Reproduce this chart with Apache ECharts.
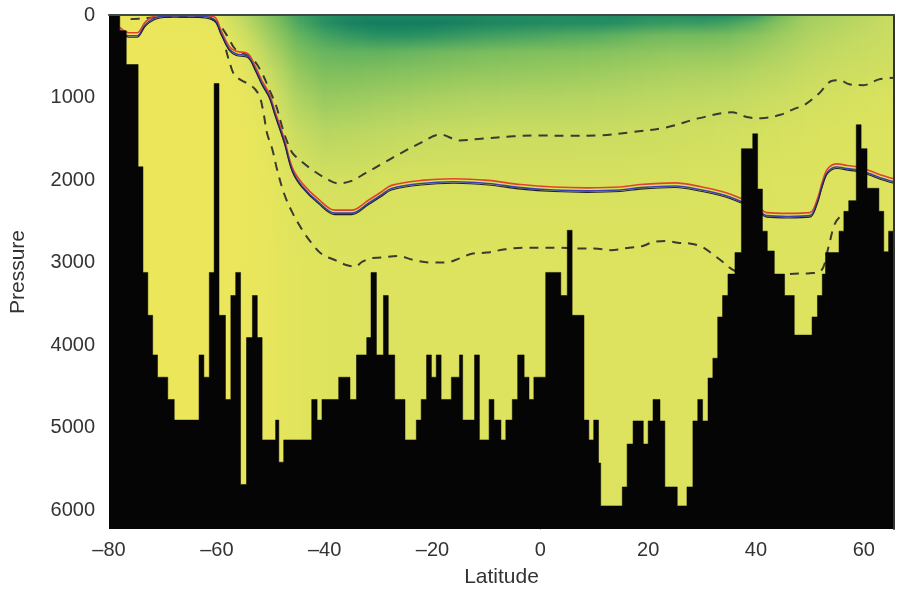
<!DOCTYPE html>
<html>
<head>
<meta charset="utf-8">
<script src="https://cdn.jsdelivr.net/npm/echarts@6.0.0/dist/echarts.min.js"></script>
<style>html,body{margin:0;padding:0;background:#fff}#chart{width:897px;height:593px}</style>
</head>
<body>
<div id="chart"></div>
<script>
// ---------- axis ticks ----------
const latTicks = [-80, -60, -40, -20, 0, 20, 40, 60];
const pressureTicks = [0, 1000, 2000, 3000, 4000, 5000, 6000];

// ---------- background property field (colour index 0 = yellow .. 1 = dark teal) ----------
const fieldLat = [-80,-75,-70,-65,-60,-55,-50,-45,-40,-35,-30,-25,-20,-15,-10,-5,0,5,10,15,20,25,30,35,40,45,50,55,60,65];
const fieldDepth = [0, 100, 250, 450, 700, 1000, 1400, 2000, 3000, 6230];
const fieldValue = [
  [0.03,0.03,0.02,0.02,0.02,0.02,0.02,0.02,0.02,0.02],
  [0.03,0.03,0.02,0.02,0.02,0.02,0.02,0.02,0.02,0.02],
  [0.04,0.04,0.03,0.02,0.02,0.02,0.02,0.02,0.02,0.02],
  [0.06,0.05,0.03,0.02,0.02,0.02,0.02,0.02,0.02,0.02],
  [0.10,0.08,0.05,0.03,0.02,0.02,0.02,0.02,0.02,0.02],
  [0.34,0.30,0.22,0.14,0.07,0.04,0.03,0.03,0.03,0.03],
  [0.58,0.54,0.47,0.38,0.28,0.18,0.10,0.07,0.06,0.06],
  [0.80,0.76,0.68,0.60,0.50,0.40,0.28,0.16,0.11,0.11],
  [0.90,0.90,0.80,0.68,0.60,0.50,0.36,0.20,0.13,0.13],
  [0.94,0.97,0.86,0.70,0.60,0.49,0.35,0.20,0.14,0.14],
  [0.95,0.99,0.90,0.70,0.59,0.47,0.33,0.19,0.14,0.14],
  [0.95,0.99,0.90,0.68,0.57,0.45,0.31,0.18,0.14,0.14],
  [0.95,0.99,0.88,0.66,0.55,0.43,0.29,0.18,0.14,0.14],
  [0.94,0.97,0.85,0.64,0.53,0.41,0.28,0.18,0.14,0.14],
  [0.93,0.95,0.82,0.62,0.52,0.40,0.27,0.18,0.14,0.14],
  [0.92,0.94,0.80,0.61,0.51,0.39,0.27,0.18,0.14,0.14],
  [0.92,0.93,0.78,0.60,0.50,0.39,0.27,0.18,0.14,0.14],
  [0.92,0.92,0.76,0.59,0.49,0.38,0.27,0.18,0.14,0.14],
  [0.93,0.92,0.74,0.58,0.48,0.37,0.26,0.18,0.14,0.14],
  [0.93,0.90,0.70,0.56,0.46,0.36,0.26,0.18,0.14,0.14],
  [0.91,0.86,0.66,0.54,0.44,0.34,0.25,0.18,0.14,0.14],
  [0.91,0.84,0.64,0.52,0.42,0.33,0.24,0.18,0.14,0.14],
  [0.93,0.84,0.64,0.52,0.41,0.32,0.23,0.17,0.14,0.14],
  [0.91,0.80,0.62,0.51,0.40,0.31,0.22,0.17,0.14,0.14],
  [0.84,0.70,0.56,0.46,0.36,0.28,0.21,0.16,0.14,0.14],
  [0.62,0.55,0.47,0.40,0.33,0.25,0.19,0.15,0.14,0.14],
  [0.46,0.43,0.39,0.34,0.28,0.22,0.17,0.15,0.14,0.14],
  [0.40,0.38,0.34,0.30,0.25,0.20,0.16,0.14,0.14,0.14],
  [0.35,0.33,0.30,0.27,0.23,0.18,0.15,0.14,0.14,0.14],
  [0.28,0.27,0.26,0.24,0.21,0.17,0.15,0.14,0.14,0.14]
];

// ---------- bathymetry: latitude where each step starts, and sea-floor pressure ----------
const bathyLat = [-80,-78,-76.8,-74.6,-73.7,-72.8,-71.9,-71.0,-69.1,-67.9,-63.3,-62.4,-61.4,-60.5,-59.6,-58.4,-57.4,-56.5,-55.6,-54.5,-53.4,-52.5,-51.6,-49.1,-48.5,-47.6,-42.4,-41.4,-40.5,-37.4,-35.3,-34.1,-32.2,-31.4,-30.4,-29.1,-28.2,-27.0,-25.1,-23.0,-22.1,-21.1,-20.2,-19.3,-18.4,-16.5,-15.0,-14.4,-12.2,-11.3,-9.5,-8.6,-7.3,-6.4,-5.2,-4.2,-3.0,-2.1,-1.2,1.0,3.8,5.0,5.9,8.1,9.0,9.9,10.8,11.2,15.2,16.1,17.2,19.1,20.0,20.9,22.2,23.1,25.4,27.2,28.3,29.2,30.1,31.1,32.0,32.9,33.8,34.8,36.1,37.3,39.4,40.3,41.2,42.1,43.4,45.3,47.1,50.4,51.4,52.3,52.9,55.4,56.3,57.2,58.6,59.5,60.6,62.8,63.7,64.6,65.6];
const bathyDepth = [0,190,600,1840,3120,3640,4120,4390,4660,4910,4120,4390,3120,830,3640,4660,3400,3120,5690,3910,3400,3910,5150,4910,5420,5150,4660,4910,4660,4390,4660,4120,3910,3120,4120,3400,4120,4660,5150,4910,4660,4120,4390,4120,4660,4390,4120,4910,4120,5150,4660,4910,5150,4910,4660,4120,4390,4660,4390,3120,3400,2610,3640,4910,5150,4910,5430,5950,5720,5200,4920,5200,4920,4660,4920,5720,5950,5720,4920,4660,4920,4400,4160,3660,3400,3140,2880,1620,1440,2110,2620,2860,3140,3400,3880,3660,3400,3140,2880,2620,2380,2250,1330,1620,2100,2380,2870,2620,2620];

// ---------- contour lines ----------
const upperDashLat = [-76,-73.5,-71,-67,-63,-61,-59.5,-58,-56.5,-54.5,-53,-51.5,-50.3,-49,-48,-47,-46,-44,-42,-39.5,-37.5,-35,-32.5,-29,-26,-22.5,-18.5,-15,-11,-5,0,5,11,17,23.5,29.5,35.5,38.5,41,44.5,47,49,51.7,54,55.5,57.3,60,62.8,65.6];
const upperDashDepth = [50,40,25,20,25,45,120,260,420,480,560,720,900,1100,1330,1530,1670,1790,1890,1990,2040,2010,1920,1790,1680,1560,1450,1520,1500,1470,1460,1465,1460,1420,1360,1250,1180,1240,1250,1210,1140,1090,950,800,790,840,850,780,760];

const lowerDashLat = [-58.3,-57.7,-56.8,-55.5,-54,-52.9,-52,-51.3,-50.7,-49.7,-48.8,-47.5,-46.1,-44.2,-42.6,-40.5,-38.1,-36,-34.4,-33,-31.5,-29.5,-26.5,-23.5,-20.5,-17.5,-15,-12.5,-10,-6.5,-3,0,3,7,10,13,16.5,19,21,23.5,25.5,27.7,30,32,34,35.5,38,42,46,50,52.1,53.5,54.5,55.5,57];
const lowerDashDepth = [420,560,720,790,840,900,1000,1200,1430,1630,1880,2170,2380,2600,2750,2900,2970,3030,3050,2990,2950,2940,2920,2970,3000,3000,2950,2890,2880,2840,2820,2820,2820,2830,2830,2850,2820,2800,2750,2740,2760,2770,2810,2900,3000,3080,3150,3200,3140,3130,3100,2800,2550,2450,2400];

const tripleLat = [-78,-76.3,-74.8,-73.2,-71.1,-68,-63.5,-60.5,-59.2,-57.7,-56.4,-54.2,-52.9,-51.6,-50.3,-49.2,-47.5,-46,-44.2,-41.1,-38.1,-35,-31.9,-29.5,-27.6,-22.1,-16,-9.7,-3.6,2.5,8.7,14.8,18.5,25,30,34,37.3,40,42,46,50,51.3,52.3,53.3,55,57,59,61,63,65.6];
const redDepth = [150,215,215,80,8,5,5,20,190,380,440,470,620,800,950,1170,1500,1850,2035,2235,2365,2365,2245,2145,2065,2005,1985,2005,2055,2085,2095,2085,2055,2035,2085,2145,2225,2295,2395,2405,2395,2245,2025,1865,1805,1825,1845,1885,1935,1985];
const blueDepth = [182,252,252,112,27,10,12,52,222,412,472,502,652,832,982,1202,1532,1882,2072,2272,2402,2402,2282,2182,2102,2042,2022,2042,2092,2122,2132,2122,2092,2072,2122,2182,2262,2332,2432,2442,2432,2282,2062,1902,1842,1862,1882,1922,1972,2022];
const blackDepth = [200,270,270,130,45,28,30,70,240,430,490,520,670,850,1000,1220,1550,1900,2090,2290,2420,2420,2300,2200,2120,2060,2040,2060,2110,2140,2150,2140,2110,2090,2140,2200,2280,2350,2450,2460,2450,2300,2080,1920,1860,1880,1900,1940,1990,2040];

// ---------- rendering ----------
const X_MIN = -80, X_MAX = 65.6, Y_MAX = 6230;
const cmapStops = [[0,[238,231,91]],[0.15,[220,227,94]],[0.3,[196,218,98]],[0.45,[164,206,96]],[0.6,[128,191,93]],[0.75,[84,171,95]],[0.9,[40,144,98]],[1,[18,123,95]]];
function cmap(t){
  t = Math.max(0, Math.min(1, t));
  for (let k = 1; k < cmapStops.length; k++) {
    const a = cmapStops[k-1], b = cmapStops[k];
    if (t <= b[0]) {
      const f = (t - a[0]) / (b[0] - a[0]);
      const c = a[1].map((v, j) => Math.round(v + (b[1][j] - v) * f));
      return 'rgb(' + c.join(',') + ')';
    }
  }
  return 'rgb(18,123,95)';
}
function renderField(params, api){
  const i = params.dataIndex, n = fieldLat.length;
  const a = fieldLat[i], b = i < n - 1 ? fieldLat[i+1] : X_MAX;
  const steps = i < n - 1 ? 12 : 1;
  const children = [];
  for (let k = 0; k < steps; k++) {
    const f = steps === 1 ? 0 : (k + 0.5) / steps;
    const l0 = a + (b - a) * k / steps, l1 = a + (b - a) * (k + 1) / steps;
    const p0 = api.coord([l0, 0]), p1 = api.coord([l1, Y_MAX]);
    const stops = fieldDepth.map((d, j) => {
      const v = i < n - 1 ? fieldValue[i][j] * (1 - f) + fieldValue[i+1][j] * f : fieldValue[i][j];
      return { offset: d / Y_MAX, color: cmap(v) };
    });
    children.push({
      type: 'rect',
      shape: { x: p0[0] - 0.5, y: p0[1], width: p1[0] - p0[0] + 1, height: p1[1] - p0[1] },
      style: { fill: new echarts.graphic.LinearGradient(0, 0, 0, 1, stops) }
    });
  }
  return { type: 'group', children };
}
const pair = (xs, ys) => xs.map((x, i) => [x, ys[i]]);
const fmtLat = v => (latTicks.indexOf(v) < 0 ? '' : (v < 0 ? '\u2013' + Math.abs(v) : String(v)));
const fmtP = v => (pressureTicks.indexOf(v) < 0 ? '' : String(v));
const font = "'Liberation Sans', Arial, Helvetica, sans-serif";

const chart = echarts.init(document.getElementById('chart'), null, { renderer: 'canvas' });
const lineBase = { type: 'line', symbol: 'none', smooth: 0.35, silent: true, clip: true };
chart.setOption({
  animation: false,
  backgroundColor: '#ffffff',
  grid: { left: 106, top: 15, right: 2, bottom: 59, containLabel: false },
  xAxis: [{
    type: 'value', min: X_MIN, max: X_MAX, interval: 20,
    name: 'Latitude', nameLocation: 'middle', nameGap: 38,
    nameTextStyle: { fontFamily: font, fontSize: 21, color: '#333' },
    axisLine: { show: true, lineStyle: { color: '#555', width: 1 } },
    axisTick: { show: false }, splitLine: { show: false },
    axisLabel: { fontFamily: font, fontSize: 20, color: '#333', margin: 11, formatter: fmtLat }
  }, {
    type: 'value', min: X_MIN, max: X_MAX, position: 'top', z: 20,
    axisLine: { show: true, onZero: false, lineStyle: { color: '#3c4a44', width: 2 } },
    axisTick: { show: false }, axisLabel: { show: false }, splitLine: { show: false }
  }],
  yAxis: [{
    type: 'value', inverse: true, min: 0, max: Y_MAX, interval: 1000,
    name: 'Pressure', nameLocation: 'middle', nameGap: 80,
    nameTextStyle: { fontFamily: font, fontSize: 21, color: '#333' },
    axisLine: { show: true, lineStyle: { color: '#555', width: 1 } },
    axisTick: { show: false }, splitLine: { show: false },
    axisLabel: { fontFamily: font, fontSize: 20, color: '#333', margin: 14, formatter: fmtP }
  }, {
    type: 'value', inverse: true, min: 0, max: Y_MAX, position: 'right', z: 20,
    axisLine: { show: true, onZero: false, lineStyle: { color: '#333', width: 2 } },
    axisTick: { show: false }, axisLabel: { show: false }, splitLine: { show: false }
  }],
  series: [
    {
      type: 'custom', renderItem: renderField, z: 1, silent: true, clip: true,
      data: fieldLat.map(v => [v, 0]), encode: { x: 0, y: 1 }
    },
    Object.assign({}, lineBase, { z: 3, data: pair(upperDashLat, upperDashDepth),
      lineStyle: { color: '#3a3a30', width: 2, type: [9, 7] } }),
    Object.assign({}, lineBase, { z: 3, data: pair(lowerDashLat, lowerDashDepth),
      lineStyle: { color: '#3a3a30', width: 2, type: [9, 7] } }),
    Object.assign({}, lineBase, { z: 3, data: pair(tripleLat, redDepth),
      lineStyle: { color: '#e0452c', width: 1.6 } }),
    Object.assign({}, lineBase, { z: 3, data: pair(tripleLat, blueDepth),
      lineStyle: { color: '#3b40b4', width: 1.6 } }),
    Object.assign({}, lineBase, { z: 3, data: pair(tripleLat, blackDepth),
      lineStyle: { color: '#222222', width: 1.1 } }),
    {
      type: 'line', step: 'end', symbol: 'none', silent: true, z: 5, clip: true,
      data: pair(bathyLat, bathyDepth),
      lineStyle: { color: '#050505', width: 0.5 },
      areaStyle: { color: '#050505', opacity: 1, origin: 'end' }
    }
  ]
});
</script>
</body>
</html>
